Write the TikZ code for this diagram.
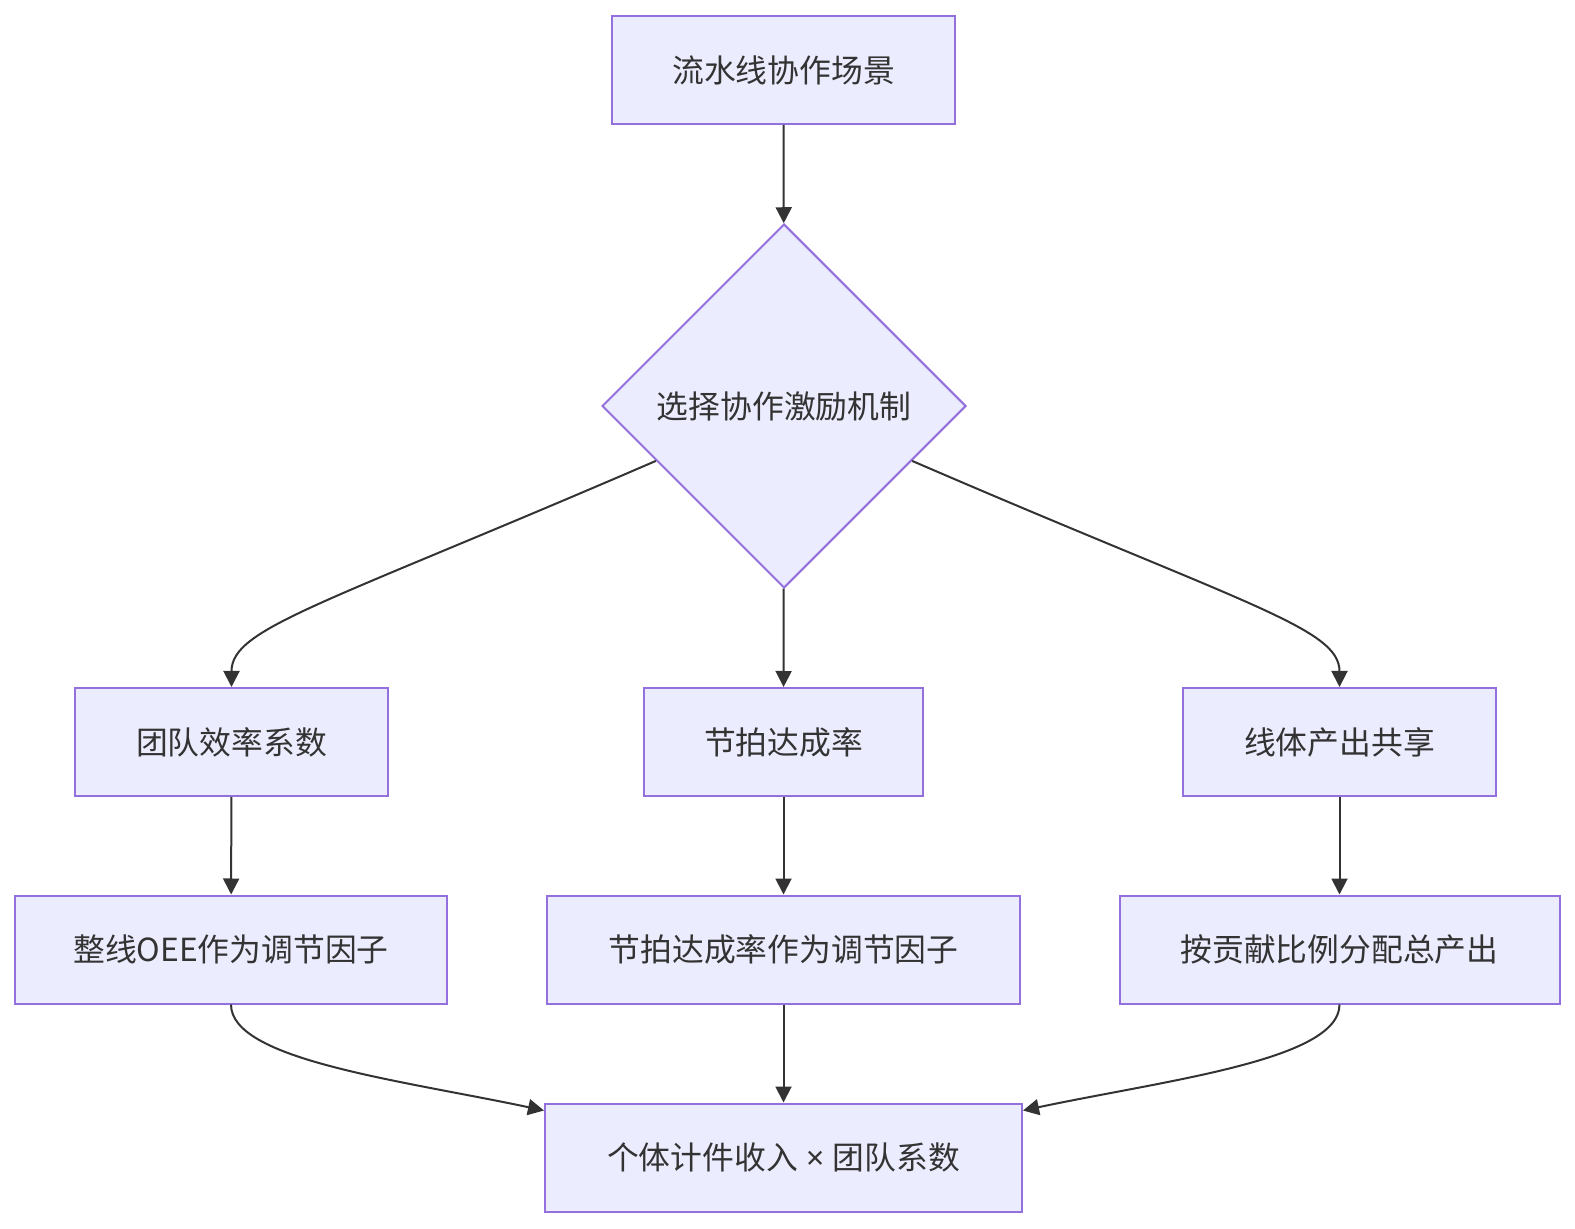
\documentclass[tikz,border=0pt]{standalone}
\usepackage{fontspec}
\setmainfont{Noto Sans CJK SC}
\newfontfamily\latinfont{Noto Sans}
\usepackage{tikz}
\usetikzlibrary{shapes.geometric,arrows.meta,positioning,calc}
\definecolor{flowfill}{HTML}{ECECFF}
\definecolor{flowline}{HTML}{9370DB}
\definecolor{flowink}{HTML}{333333}

\begin{document}
\begin{tikzpicture}[
    x=0.5pt, y=0.5pt,
    every node/.style={font=\fontsize{15.9pt}{19pt}\selectfont, text=flowink},
    procbox/.style={rectangle, draw=flowline, fill=flowfill, line width=1pt,
                    minimum height=54pt, align=center, inner sep=0pt},
    choicebox/.style={diamond, aspect=1, draw=flowline, fill=flowfill, line width=1pt,
                      minimum width=182pt, minimum height=182pt, inner sep=0pt},
    arrow/.style={-{Triangle[length=8pt, width=8pt]}, line width=1pt, color=flowink}
]
\useasboundingbox (0,0) rectangle (1575,1228);
\node[procbox, minimum width=171.5pt] (scene) at (783.5,1158) {流水线协作场景};
\node[choicebox] (choose) at (784,822) {选择协作激励机制};
\node[procbox, minimum width=156.5pt] (team) at (231.5,486) {团队效率系数};
\node[procbox, minimum width=139.5pt] (takt) at (783.5,486) {节拍达成率};
\node[procbox, minimum width=156.5pt] (share) at (1339.5,486) {线体产出共享};
\node[procbox, minimum width=216pt] (oee) at (231,278.5) {整线OEE作为调节因子};
\node[procbox, minimum width=236.5pt] (taktf) at (783.5,278.5) {节拍达成率作为调节因子};
\node[procbox, minimum width=220pt] (alloc) at (1339.5,278.5) {按贡献比例分配总产出};
\node[procbox, minimum width=238.5pt] (income) at (783.5,70.5) {个体计件收入{\latinfont\ ×\ }团队系数};
\draw[arrow] (scene) -- (choose);
\draw[arrow] ($(choose.west)!0.3!(choose.south)$) .. controls (320,622) and (231.5,600) .. (team.north);
\draw[arrow] (choose) -- (takt);
\draw[arrow] ($(choose.east)!0.3!(choose.south)$) .. controls (1248,622) and (1339.5,600) .. (share.north);
\draw[arrow] (team) -- (oee);
\draw[arrow] (takt) -- (taktf);
\draw[arrow] (share) -- (alloc);
\draw[arrow] (oee.south) .. controls (231,168) and (400,148) .. ($(income.north west)+(0,-8)$);
\draw[arrow] (taktf) -- (income);
\draw[arrow] (alloc.south) .. controls (1339.5,168) and (1167,148) .. ($(income.north east)+(0,-8)$);
\end{tikzpicture}
\end{document}
